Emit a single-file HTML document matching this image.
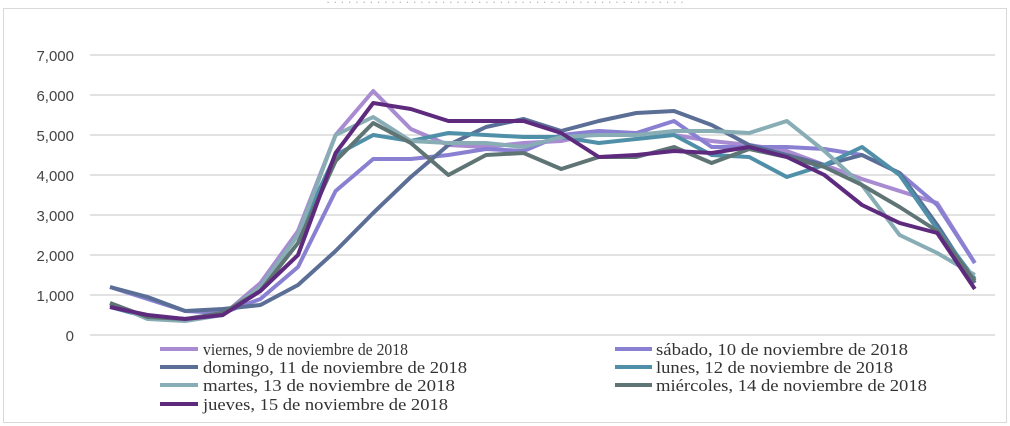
<!DOCTYPE html>
<html><head><meta charset="utf-8"><style>
body{margin:0;background:#fff;}
svg{display:block;}
</style></head><body>
<svg width="1010" height="426" viewBox="0 0 1010 426" xmlns="http://www.w3.org/2000/svg">
<rect x="0" y="0" width="1010" height="426" fill="#fff"/>
<text x="505" y="3" text-anchor="middle" font-family="Liberation Sans, sans-serif" font-size="13" fill="#bbb">. . . . . . . . . . . . . . . . . . . . . . . . . . . . . . . . . . . . . . . . . . . . . . . . . .</text>
<rect x="3.5" y="8.5" width="1003" height="414" fill="none" stroke="#d9d9d9" stroke-width="1"/>
<g stroke="#d9d9d9" stroke-width="1.5">
<line x1="90" y1="55" x2="995" y2="55"/><line x1="90" y1="95" x2="995" y2="95"/>
<line x1="90" y1="135" x2="995" y2="135"/><line x1="90" y1="175" x2="995" y2="175"/>
<line x1="90" y1="215" x2="995" y2="215"/><line x1="90" y1="255" x2="995" y2="255"/>
<line x1="90" y1="295" x2="995" y2="295"/><line x1="90" y1="335" x2="995" y2="335"/>
</g>
<g font-family="Liberation Sans, sans-serif" font-size="15" fill="#444" text-anchor="end">
<text x="74" y="61">7,000</text><text x="74" y="101">6,000</text><text x="74" y="141">5,000</text>
<text x="74" y="181">4,000</text><text x="74" y="221">3,000</text><text x="74" y="261">2,000</text>
<text x="74" y="301">1,000</text><text x="74" y="341">0</text>
</g>
<g fill="none" stroke-width="4" stroke-linejoin="round" id="lines"></g>
<g font-family="Liberation Serif, serif" font-size="17" fill="#333" lengthAdjust="spacingAndGlyphs">
<line x1="160" y1="349" x2="198" y2="349" stroke="#a98bd2" stroke-width="4"/><text x="203" y="355" textLength="205" lengthAdjust="spacingAndGlyphs">viernes, 9 de noviembre de 2018</text>
<line x1="615" y1="349" x2="652" y2="349" stroke="#8a80d2" stroke-width="4"/><text x="656" y="355" textLength="252" lengthAdjust="spacingAndGlyphs">sábado, 10 de noviembre de 2018</text>
<line x1="160" y1="367" x2="198" y2="367" stroke="#5a6e96" stroke-width="4"/><text x="203" y="373" textLength="264" lengthAdjust="spacingAndGlyphs">domingo, 11 de noviembre de 2018</text>
<line x1="615" y1="367" x2="652" y2="367" stroke="#4f8fa8" stroke-width="4"/><text x="656" y="373" textLength="237" lengthAdjust="spacingAndGlyphs">lunes, 12 de noviembre de 2018</text>
<line x1="160" y1="385" x2="198" y2="385" stroke="#88adb5" stroke-width="4"/><text x="203" y="391" textLength="252" lengthAdjust="spacingAndGlyphs">martes, 13 de noviembre de 2018</text>
<line x1="615" y1="385" x2="652" y2="385" stroke="#5f7474" stroke-width="4"/><text x="656" y="391" textLength="271" lengthAdjust="spacingAndGlyphs">miércoles, 14 de noviembre de 2018</text>
<line x1="160" y1="404" x2="198" y2="404" stroke="#5e2a7e" stroke-width="4"/><text x="203" y="410" textLength="245" lengthAdjust="spacingAndGlyphs">jueves, 15 de noviembre de 2018</text>
</g>
<script>
var S=[
["#a98bd2",[750,450,400,500,1300,2600,5000,6100,5150,4750,4700,4800,4850,5050,5050,5000,4850,4750,4600,4250,3900,3600,3300,1800]],
["#8a80d2",[1200,900,600,550,900,1700,3600,4400,4400,4500,4650,4600,5000,5100,5050,5350,4700,4700,4700,4650,4500,4050,3250,1800]],
["#5a6e96",[1200,950,600,650,750,1250,2100,3050,3950,4750,5200,5400,5100,5350,5550,5600,5250,4750,4500,4250,4500,4050,2750,1300]],
["#4f8fa8",[700,450,400,500,1200,2500,4500,5000,4850,5050,5000,4950,4950,4800,4900,5000,4500,4450,3950,4250,4700,4000,2650,1400]],
["#88adb5",[800,400,350,500,1200,2500,5000,5450,4850,4800,4800,4700,4950,5000,5000,5100,5100,5050,5350,4600,3750,2500,2050,1500]],
["#5f7474",[800,450,400,550,1100,2300,4350,5300,4800,4000,4500,4550,4150,4450,4450,4700,4300,4650,4450,4200,3750,3200,2600,1350]],
["#5e2a7e",[700,500,400,500,1100,2000,4550,5800,5650,5350,5350,5350,5050,4450,4500,4600,4550,4700,4450,4000,3250,2800,2550,1150]]];
var g=document.getElementById("lines"),ns="http://www.w3.org/2000/svg";
S.forEach(function(s){var p=document.createElementNS(ns,"polyline");
p.setAttribute("points",s[1].map(function(v,i){return (110+37.6*i).toFixed(1)+","+(335-v*0.04).toFixed(1)}).join(" "));
p.setAttribute("stroke",s[0]);g.appendChild(p);});
</script>
</svg>
</body></html>
